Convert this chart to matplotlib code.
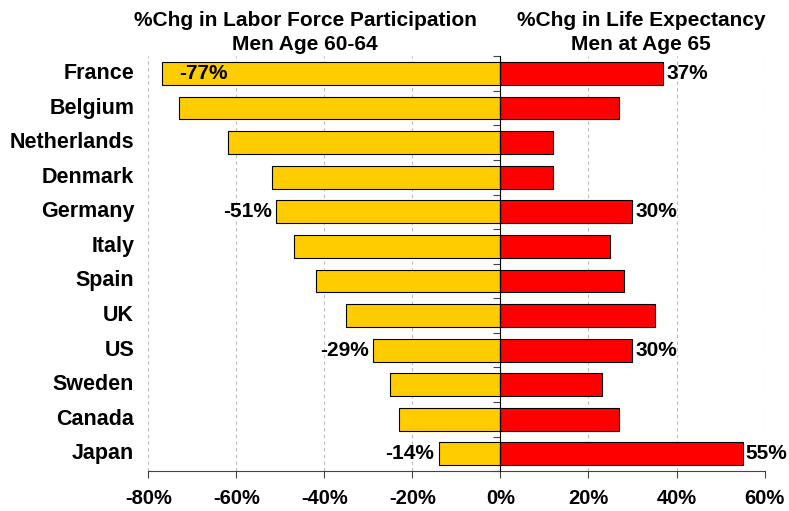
import matplotlib
matplotlib.use('Agg')
import matplotlib.pyplot as plt
import numpy as np

countries = ['France', 'Belgium', 'Netherlands', 'Denmark', 'Germany', 'Italy',
             'Spain', 'UK', 'US', 'Sweden', 'Canada', 'Japan']
labor_chg = [-77, -73, -62, -52, -51, -47, -42, -35, -29, -25, -23, -14]
life_chg = [37, 27, 12, 12, 30, 25, 28, 35, 30, 23, 27, 55]
labor_labels = {'France': '-77%', 'Germany': '-51%', 'US': '-29%', 'Japan': '-14%'}
life_labels = {'France': '37%', 'Germany': '30%', 'US': '30%', 'Japan': '55%'}

font = 'Liberation Sans'

fig = plt.figure(figsize=(7.89, 5.11), dpi=100)
ax = fig.add_axes([0.188, 0.078, 0.781, 0.812])

y = np.arange(len(countries))
ax.barh(y, labor_chg, height=0.66, color='#FFCC00', edgecolor='black', linewidth=0.8, zorder=3)
ax.barh(y, life_chg, height=0.66, color='#FF0000', edgecolor='black', linewidth=0.8, zorder=3)

ax.set_xlim(-80, 60)
ax.set_ylim(len(countries) - 0.5, -0.5)

ax.set_xticks(np.arange(-80, 61, 20))
ax.set_xticklabels(['%d%%' % v for v in range(-80, 61, 20)],
                   fontfamily=font, fontweight='bold', fontsize=14.5)
ax.grid(axis='x', linestyle=(0, (3, 3)), color='#BBBBBB', linewidth=0.8, zorder=0)
ax.tick_params(axis='x', length=5, color='#444444', pad=8)

# zero line acts as the category axis
for s in ['top', 'right']:
    ax.spines[s].set_visible(False)
ax.spines['left'].set_position(('data', 0))
ax.spines['left'].set_zorder(4)
ax.spines['bottom'].set_color('#444444')
ax.set_yticks(np.arange(-0.5, len(countries), 1.0))
ax.set_yticklabels([])
ax.tick_params(axis='y', length=5, color='#444444', direction='out')

for i, c in enumerate(countries):
    ax.text(-0.023, i, c, transform=ax.get_yaxis_transform(), ha='right', va='center',
            fontfamily=font, fontweight='bold', fontsize=15.5)
    if c in labor_labels:
        if c == 'France':
            ax.text(labor_chg[i] + 4, i, labor_labels[c], ha='left', va='center',
                    fontfamily=font, fontweight='bold', fontsize=15, zorder=5)
        else:
            ax.text(labor_chg[i] - 1.0, i, labor_labels[c], ha='right', va='center',
                    fontfamily=font, fontweight='bold', fontsize=15, zorder=5)
    if c in life_labels:
        ax.text(life_chg[i] + 0.7, i, life_labels[c], ha='left', va='center',
                fontfamily=font, fontweight='bold', fontsize=15, zorder=5)

fig.text(305 / 789, 1 - 21 / 511, '%Chg in Labor Force Participation', ha='center', va='center',
         fontfamily=font, fontweight='bold', fontsize=15)
fig.text(305 / 789, 1 - 44 / 511, 'Men Age 60-64', ha='center', va='center',
         fontfamily=font, fontweight='bold', fontsize=15)
fig.text(641 / 789, 1 - 21 / 511, '%Chg in Life Expectancy', ha='center', va='center',
         fontfamily=font, fontweight='bold', fontsize=15)
fig.text(641 / 789, 1 - 44 / 511, 'Men at Age 65', ha='center', va='center',
         fontfamily=font, fontweight='bold', fontsize=15)

fig.savefig('out.png', dpi=100)
